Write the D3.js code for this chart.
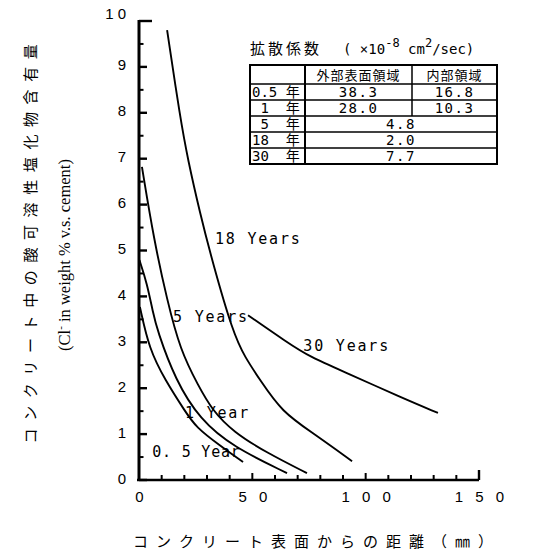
<!DOCTYPE html>
<html>
<head>
<meta charset="utf-8">
<script src="https://cdnjs.cloudflare.com/ajax/libs/d3/7.8.5/d3.min.js"></script>
<style>
  body { margin: 0; background: #fff; }
  svg { display: block; }
</style>
</head>
<body>
<div id="wrapper"></div>
<script>
// curve data: distance from surface (mm) and Cl- content (% vs cement)
const dist05 = [0.4, 4.5, 11.5, 20.3, 25.1, 35.7, 45.9];
const cl05   = [3.77, 2.85, 2.18, 1.5, 1.15, 0.75, 0.39];

const dist1 = [0.2, 3.5, 6.2, 8.0, 16.0, 27.0, 41.5, 65.3];
const cl1   = [4.79, 4.29, 3.64, 3.27, 2.18, 1.31, 0.72, 0.15];

const dist5 = [1.3, 6.6, 12.4, 18.2, 26.2, 32.2, 41.5, 56.5, 74.1];
const cl5   = [6.82, 5.23, 3.92, 2.83, 2.05, 1.53, 1.05, 0.59, 0.15];

const dist18 = [12.4, 18.1, 21.6, 26.9, 32.2, 41.5, 46.8, 53.4, 63.1, 76.8, 94.0];
const cl18   = [9.8, 7.91, 6.97, 5.82, 4.79, 3.2, 2.67, 2.18, 1.48, 1.02, 0.41];

const dist30 = [48.1, 65.3, 75.4, 91.8, 115.1, 131.9];
const cl30   = [3.59, 3.0, 2.68, 2.33, 1.81, 1.46];

const curveNames = ["0. 5 Year", "1 Year", "5 Years", "18 Years", "30 Years"];

// axis ticks
const xTicks = [0, 50, 100, 150];
const xMinor = [10, 20, 30, 40, 50, 60, 70, 80, 90, 100, 110, 120, 130, 140];
const yTicks = [0, 1, 2, 3, 4, 5, 6, 7, 8, 9, 10];
const yMinor = [0.5, 1.5, 2.5, 3.5, 4.5, 5.5, 6.5, 7.5, 8.5, 9.5];

// diffusion coefficient table
const tableYears = ["0.5 年", " 1  年", " 5  年", "18  年", "30  年"];
const outerCoef  = ["38.3", "28.0", "4.8", "2.0", "7.7"];
const innerCoef  = ["16.8", "10.3", null, null, null];

const width = 535, height = 558;

const svg = d3.select("#wrapper").append("svg")
    .attr("width", width)
    .attr("height", height)
    .style("background", "#fff")

const x = d3.scaleLinear().domain([0, 150]).range([139, 479])
const y = d3.scaleLinear().domain([0, 10]).range([480, 21])

// y axis labels
const yAxis = svg.append("g")
    .attr("transform", `translate(${x(0)},0)`)
    .call(d3.axisLeft(y).tickValues(yTicks).tickSize(0).tickPadding(13)
        .tickFormat(d => String(d).split("").join(" ")))
yAxis.select(".domain").remove()
yAxis.selectAll("text")
    .attr("fill", "#000")
    .attr("font-family", "Liberation Sans, Arial, sans-serif")
    .attr("font-size", 15)
    .attr("dy", d => d === 10 ? "-0.2em" : "0.2em")

// x axis labels
const xAxis = svg.append("g")
    .attr("transform", `translate(0,${y(0)})`)
    .call(d3.axisBottom(x).tickValues(xTicks).tickSize(0).tickPadding(11)
        .tickFormat(d => String(d).split("").join(" ")))
xAxis.select(".domain").remove()
xAxis.selectAll("text")
    .attr("fill", "#000")
    .attr("font-family", "Liberation Sans, Arial, sans-serif")
    .attr("font-size", 15)
    .attr("letter-spacing", 4)
    .attr("dx", 2)

// curves
const series = [
    d3.zip(dist05, cl05),
    d3.zip(dist1, cl1),
    d3.zip(dist5, cl5),
    d3.zip(dist18, cl18),
    d3.zip(dist30, cl30),
]

const lineGen = d3.line()
    .x(d => x(d[0]))
    .y(d => y(d[1]))
    .curve(d3.curveBasis)

svg.append("g")
    .selectAll("path")
    .data(series)
    .join("path")
    .attr("d", lineGen)
    .attr("fill", "none")
    .attr("stroke", "#000")
    .attr("stroke-width", 1.9)

// curve labels (anchor in data units)
const labelAt = [[5.8, 0.5], [20.3, 1.35], [15.0, 3.45], [33.5, 5.15], [72.5, 2.82]]
svg.append("g")
    .selectAll("text")
    .data(curveNames)
    .join("text")
    .attr("x", (d, i) => x(labelAt[i][0]))
    .attr("y", (d, i) => y(labelAt[i][1]))
    .attr("font-family", "DejaVu Sans Mono, monospace")
    .attr("font-size", 15)
    .attr("letter-spacing", (d, i) => i === 0 ? 0.8 : 1.8)
    .text(d => d)

// axis titles
svg.append("text")
    .attr("x", 133).attr("y", 547)
    .attr("font-family", "Noto Sans CJK JP, sans-serif")
    .attr("font-size", 15)
    .attr("letter-spacing", 8)
    .text("コンクリート表面からの距離（㎜）")

svg.append("text")
    .attr("transform", "translate(36,240) rotate(-90)")
    .attr("text-anchor", "middle")
    .attr("font-family", "Noto Sans CJK JP, sans-serif")
    .attr("font-size", 15)
    .attr("letter-spacing", 7.6)
    .text("コンクリート中の酸可溶性塩化物含有量")

const sub = svg.append("text")
    .attr("transform", "translate(70,255) rotate(-90)")
    .attr("text-anchor", "middle")
    .attr("font-family", "Liberation Serif, Times New Roman, serif")
    .attr("font-size", 16.5)
sub.append("tspan").text("(Cl")
sub.append("tspan").attr("baseline-shift", "super").attr("font-size", 11).text("-")
sub.append("tspan").text(" in weight % v.s. cement)")

// diffusion coefficient table
const tbl = svg.append("g")
const cols = [250, 305, 412, 497]
const rowTop = [65, 84, 100, 116, 132, 148, 164]

tbl.append("text")
    .attr("x", 250).attr("y", 54)
    .attr("font-family", "Noto Sans CJK JP, sans-serif")
    .attr("font-size", 15)
    .attr("letter-spacing", 3)
    .text("拡散係数")
const unit = tbl.append("text")
    .attr("x", 343).attr("y", 54)
    .attr("font-family", "DejaVu Sans Mono, monospace")
    .attr("font-size", 14)
unit.append("tspan").text("( ×10")
unit.append("tspan").attr("dy", -7).attr("font-size", 12).text("-8")
unit.append("tspan").attr("dy", 7).text(" cm")
unit.append("tspan").attr("dy", -7).attr("font-size", 12).text("2")
unit.append("tspan").attr("dy", 7).text("/sec)")

tbl.append("rect")
    .attr("x", cols[0]).attr("y", rowTop[0])
    .attr("width", cols[3] - cols[0]).attr("height", rowTop[6] - rowTop[0])
    .attr("fill", "none").attr("stroke", "#000").attr("stroke-width", 2)

rowTop.slice(1, 6).forEach(r => {
    tbl.append("line").attr("x1", cols[0]).attr("x2", cols[3])
        .attr("y1", r).attr("y2", r).attr("stroke", "#000").attr("stroke-width", 1.5)
})
tbl.append("line").attr("x1", cols[1]).attr("x2", cols[1])
    .attr("y1", rowTop[0]).attr("y2", rowTop[6]).attr("stroke", "#000").attr("stroke-width", 2)
tbl.append("line").attr("x1", cols[2]).attr("x2", cols[2])
    .attr("y1", rowTop[0]).attr("y2", rowTop[3]).attr("stroke", "#000").attr("stroke-width", 1.5)

const cellFont = "DejaVu Sans Mono, Noto Sans CJK JP, monospace"
tbl.append("text")
    .attr("x", (cols[1] + cols[2]) / 2).attr("y", rowTop[1] - 4)
    .attr("text-anchor", "middle")
    .attr("font-family", "Noto Sans CJK JP, sans-serif").attr("font-size", 13)
    .attr("letter-spacing", 1)
    .text("外部表面領域")
tbl.append("text")
    .attr("x", (cols[2] + cols[3]) / 2).attr("y", rowTop[1] - 4)
    .attr("text-anchor", "middle")
    .attr("font-family", "Noto Sans CJK JP, sans-serif").attr("font-size", 13)
    .attr("letter-spacing", 1)
    .text("内部領域")

tableYears.forEach((yr, i) => {
    const base = rowTop[i + 2] - 3
    tbl.append("text")
        .attr("x", cols[0] + 2).attr("y", base)
        .attr("font-family", cellFont).attr("font-size", 14)
        .style("white-space", "pre")
        .text(yr)
    const spanEnd = innerCoef[i] === null ? cols[3] : cols[2]
    tbl.append("text")
        .attr("x", (cols[1] + spanEnd) / 2).attr("y", base)
        .attr("text-anchor", "middle")
        .attr("font-family", cellFont).attr("font-size", 14)
        .attr("letter-spacing", 1.5)
        .text(outerCoef[i])
    if (innerCoef[i] !== null) {
        tbl.append("text")
            .attr("x", (cols[2] + cols[3]) / 2).attr("y", base)
            .attr("text-anchor", "middle")
            .attr("font-family", cellFont).attr("font-size", 14)
            .attr("letter-spacing", 1.5)
            .text(innerCoef[i])
    }
})

// axis frame and inward tick marks, drawn last
const axes = svg.append("g")
axes.append("line")
    .attr("x1", x(0)).attr("x2", x(0))
    .attr("y1", y(10) - 1).attr("y2", y(0) + 1)
    .attr("stroke", "#000").attr("stroke-width", 3)
axes.append("line")
    .attr("x1", x(0) - 2).attr("x2", x(150))
    .attr("y1", y(0)).attr("y2", y(0))
    .attr("stroke", "#000").attr("stroke-width", 2.6)
axes.append("line")
    .attr("x1", x(150)).attr("x2", x(150))
    .attr("y1", y(0)).attr("y2", y(0) - 10)
    .attr("stroke", "#000").attr("stroke-width", 2.4)
axes.selectAll(".ytick")
    .data(yTicks)
    .join("line")
    .attr("x1", x(0)).attr("x2", d => x(0) + (d === 10 ? 13 : 8))
    .attr("y1", d => y(d)).attr("y2", d => y(d))
    .attr("stroke", "#000").attr("stroke-width", 2.4)
axes.selectAll(".yminor")
    .data(yMinor)
    .join("line")
    .attr("x1", x(0)).attr("x2", x(0) + 4.5)
    .attr("y1", d => y(d)).attr("y2", d => y(d))
    .attr("stroke", "#000").attr("stroke-width", 2)
axes.selectAll(".xminor")
    .data(xMinor)
    .join("line")
    .attr("x1", d => x(d)).attr("x2", d => x(d))
    .attr("y1", y(0)).attr("y2", d => y(0) - (d % 50 === 0 ? 7 : 5))
    .attr("stroke", "#000").attr("stroke-width", 2)
</script>
</body>
</html>
